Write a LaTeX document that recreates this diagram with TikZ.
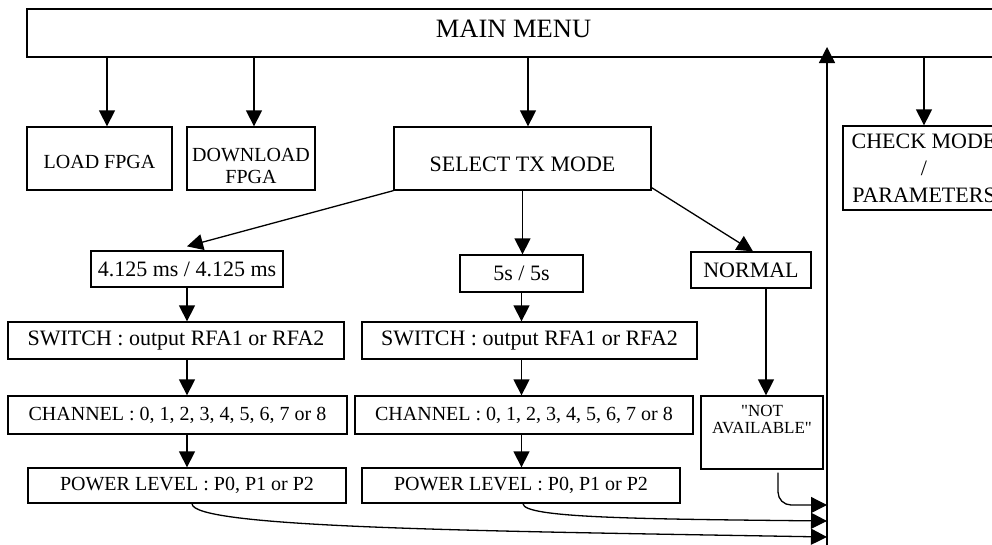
\documentclass[tikz,border=0pt]{standalone}
\usepackage{fontspec}
\setmainfont{Liberation Serif}
\usetikzlibrary{arrows.meta}
\newcommand{\sq}{\XeTeXglyph\XeTeXglyphindex "quotedbl" \relax}
\begin{document}
\begin{tikzpicture}[x=1pt,y=-1pt,line width=1.3pt,
  box/.style={draw,inner sep=0pt,align=center},
  fA/.style={font=\fontsize{22}{27}\selectfont},
  fB/.style={font=\fontsize{20}{22}\selectfont},
  arr/.style={-{Triangle[length=16pt,width=16pt]}}]
\useasboundingbox (0,0) rectangle (992,544);
\clip (0,0) rectangle (992,544);
% boxes
\node[box,minimum width=973pt,minimum height=48pt,font=\fontsize{26.5}{30}\selectfont,text height=18pt,text depth=9pt] (main) at (513.5,33) {MAIN MENU};
\node[box,fB,minimum width=145pt,minimum height=63pt,text height=19pt,text depth=0pt] (load) at (99.5,158.5) {LOAD FPGA};
\node[box,fB,minimum width=128pt,minimum height=63pt] (download) at (251,158.5) {\rule{0pt}{28pt}DOWNLOAD\\FPGA};
\node[box,fA,minimum width=257pt,minimum height=63pt,text height=25pt,text depth=0pt] (select) at (522.5,158.5) {SELECT TX MODE};
\node[box,fA,minimum width=162pt,minimum height=84pt] (check) at (924,168) {CHECK MODE\\/\\PARAMETERS};
\node[box,fA,minimum width=192pt,minimum height=36pt] (t4) at (187,269) {4.125 ms / 4.125 ms};
\node[box,fA,minimum width=123pt,minimum height=37pt] (t5) at (521.5,273.5) {5s / 5s};
\node[box,fA,minimum width=120pt,minimum height=36pt] (normal) at (751,270) {NORMAL};
\node[box,fA,minimum width=336pt,minimum height=37pt] (sw1) at (176,340.5) {SWITCH : output RFA1 or RFA2};
\node[box,fA,minimum width=335pt,minimum height=37pt] (sw2) at (529.5,340.5) {SWITCH : output RFA1 or RFA2};
\node[box,fB,minimum width=339pt,minimum height=38pt] (ch1) at (177.5,415) {CHANNEL : 0, 1, 2, 3, 4, 5, 6, 7 or 8};
\node[box,fB,minimum width=338pt,minimum height=38pt] (ch2) at (524,415) {CHANNEL : 0, 1, 2, 3, 4, 5, 6, 7 or 8};
\node[box,minimum width=122pt,minimum height=73pt] (na) at (762,432.5) {};
\node[align=center,anchor=north,inner sep=0pt,font=\fontsize{17}{17.5}\selectfont] (natext) at ([yshift=-9pt]na.north) {\sq NOT\\AVAILABLE\sq};
\node[box,fB,minimum width=318pt,minimum height=35pt] (pw1) at (187,485.5) {POWER LEVEL : P0, P1 or P2};
\node[box,fB,minimum width=318pt,minimum height=35pt] (pw2) at (521,485.5) {POWER LEVEL : P0, P1 or P2};
% return line coordinates
\coordinate (retbot) at (827,560);
\coordinate (rettop) at (827,47);
\coordinate (in3) at (827,505);
\coordinate (in2) at (827,521);
\coordinate (in1) at (827,537);
% arrows from main menu
\draw[arr] ([xshift=7.5pt]load.north |- main.south) -- ([xshift=7.5pt]load.north);
\draw[arr] ([xshift=3pt]download.north |- main.south) -- ([xshift=3pt]download.north);
\draw[arr] ([xshift=5.5pt]select.north |- main.south) -- ([xshift=5.5pt]select.north);
\draw[arr] (check.north |- main.south) -- (check.north);
% select tx mode
\draw[arr] (select.south west) -- ([yshift=4pt]t4.north);
\draw[arr] (select.south) -- (select.south |- t5.north);
\draw[arr] ([yshift=3pt]select.south east) -- ([xshift=2pt]normal.north);
% chains
\draw[arr] (t4.south) -- (t4.south |- sw1.north);
\draw[arr] (sw1.south -| t4.south) -- (ch1.north -| t4.south);
\draw[arr] (ch1.south -| t4.south) -- (pw1.north -| t4.south);
\draw[arr] (t5.south) -- (t5.south |- sw2.north);
\draw[arr] (sw2.south -| t5.south) -- (ch2.north -| t5.south);
\draw[arr] (ch2.south -| t5.south) -- (pw2.north -| t5.south);
\draw[arr] ([xshift=15pt]normal.south) -- ([xshift=15pt]normal.south |- na.north);
% return paths
\draw[arr] (retbot) -- (rettop);
\draw[arr] ([xshift=5pt]pw1.south) .. controls (192,528) and (480,531) .. (in1);
\draw[arr] ([xshift=2pt]pw2.south) .. controls (523,518) and (640,519) .. (in2);
\draw[arr,rounded corners=13pt] ([xshift=16pt,yshift=-3pt]na.south) |- (in3);
\end{tikzpicture}
\end{document}
